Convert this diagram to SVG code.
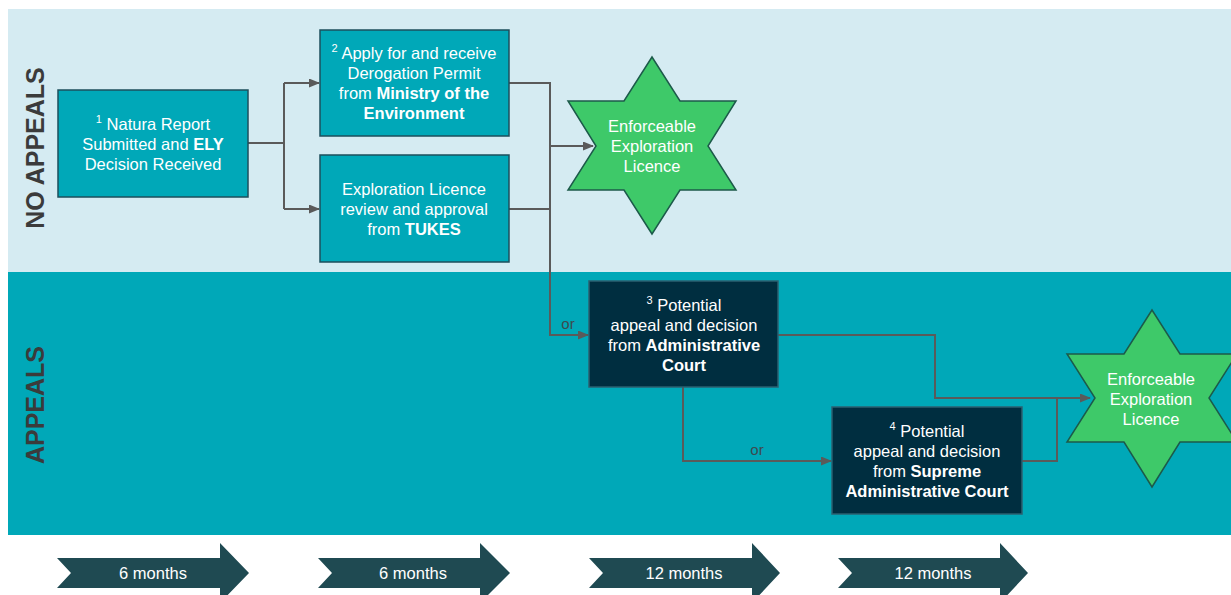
<svg xmlns="http://www.w3.org/2000/svg" width="1231" height="595" viewBox="0 0 1231 595">
<defs>
<style>
text{font-family:"Liberation Sans",Arial,sans-serif;font-size:16.5px;fill:#ffffff;text-anchor:middle;dominant-baseline:central}
.b{font-weight:bold}
.sup{font-size:11px}
.lane{font-size:25px;font-weight:bold;fill:#3b3b3b}
.or{fill:#3d4a4f;font-size:15px}
.n{fill:#00a8b8;stroke:#1d4f5c;stroke-width:1.5}
.d{fill:#002e40;stroke:#2b6070;stroke-width:1.5}
.star{fill:#3ec969;stroke:#1c5a4a;stroke-width:1.5}
.c{fill:none;stroke:#5a5a5a;stroke-width:2}
.t{fill:#1f4a52}
</style>
<marker id="ah" markerWidth="11" markerHeight="9" refX="10" refY="4.5" orient="auto" markerUnits="userSpaceOnUse">
<path d="M0,0 L11,4.5 L0,9 Z" fill="#5a5a5a"/>
</marker>
</defs>
<rect x="0" y="0" width="1231" height="595" fill="#ffffff"/>
<g id="lanes">
<rect x="8" y="9" width="1223" height="263" fill="#d5ebf2"/>
<rect x="8" y="272" width="1223" height="263" fill="#00a8b8"/>
<text class="lane" transform="translate(35,148) rotate(-90)">NO APPEALS</text>
<text class="lane" transform="translate(35,405) rotate(-90)">APPEALS</text>
</g>
<g id="connectors">
<path class="c" d="M248,143 H284"/>
<path class="c" d="M284,83 V209"/>
<path class="c" d="M284,83 H319" marker-end="url(#ah)"/>
<path class="c" d="M284,209 H319" marker-end="url(#ah)"/>
<path class="c" d="M509,83 H550 V335 H588" marker-end="url(#ah)"/>
<path class="c" d="M509,209 H550"/>
<path class="c" d="M550,146 H593" marker-end="url(#ah)"/>
<path class="c" d="M778,335 H935 V398 H1090" marker-end="url(#ah)"/>
<path class="c" d="M683,387 V461 H831" marker-end="url(#ah)"/>
<path class="c" d="M1022,461 H1057 V398"/>
<text class="or" x="568" y="323">or</text>
<text class="or" x="757" y="449">or</text>
</g>
<g id="node1">
<rect class="n" x="58" y="90" width="190" height="107"/>
<text x="153" y="124"><tspan class="sup" dy="-5">1</tspan><tspan dy="5"> Natura Report</tspan></text>
<text x="153" y="144">Submitted and <tspan class="b">ELY</tspan></text>
<text x="153" y="164">Decision Received</text>
</g>
<g id="node2">
<rect class="n" x="320" y="30" width="189" height="106"/>
<text x="414" y="53"><tspan class="sup" dy="-5">2</tspan><tspan dy="5"> Apply for and receive</tspan></text>
<text x="414" y="73">Derogation Permit</text>
<text x="414" y="93">from <tspan class="b">Ministry of the</tspan></text>
<text x="414" y="113" class="b">Environment</text>
</g>
<g id="node3">
<rect class="n" x="320" y="155" width="189" height="107"/>
<text x="414" y="189">Exploration Licence</text>
<text x="414" y="209">review and approval</text>
<text x="414" y="229">from <tspan class="b">TUKES</tspan></text>
</g>
<g id="star1">
<polygon class="star" points="652,57 680,101 736,101 708,146 736,190 680,190 652,234 624,190 568,190 596,146 568,101 624,101"/>
<text x="652" y="126">Enforceable</text>
<text x="652" y="146">Exploration</text>
<text x="652" y="166">Licence</text>
</g>
<g id="node4">
<rect class="d" x="589" y="281" width="189" height="106"/>
<text x="684" y="305"><tspan class="sup" dy="-5">3</tspan><tspan dy="5"> Potential</tspan></text>
<text x="684" y="325">appeal and decision</text>
<text x="684" y="345">from <tspan class="b">Administrative</tspan></text>
<text x="684" y="365" class="b">Court</text>
</g>
<g id="node5">
<rect class="d" x="832" y="407" width="190" height="107"/>
<text x="927" y="431"><tspan class="sup" dy="-5">4</tspan><tspan dy="5"> Potential</tspan></text>
<text x="927" y="451">appeal and decision</text>
<text x="927" y="471">from <tspan class="b">Supreme</tspan></text>
<text x="927" y="491" class="b">Administrative Court</text>
</g>
<g id="star2">
<polygon class="star" points="1152,310 1180,354 1237,354 1209,398 1237,442 1180,442 1152,487 1124,442 1067,442 1095,398 1067,354 1124,354"/>
<text x="1151" y="379">Enforceable</text>
<text x="1151" y="399">Exploration</text>
<text x="1151" y="419">Licence</text>
</g>
<g id="timeline">
<polygon class="t" points="57,558 220,558 220,543 249,573 220,603 220,588 57,588 71,573"/>
<text x="153" y="573">6 months</text>
<polygon class="t" points="318,558 480,558 480,543 510,573 480,603 480,588 318,588 332,573"/>
<text x="413" y="573">6 months</text>
<polygon class="t" points="589,558 752,558 752,543 780,573 752,603 752,588 589,588 603,573"/>
<text x="684" y="573">12 months</text>
<polygon class="t" points="838,558 1000,558 1000,543 1028,573 1000,603 1000,588 838,588 852,573"/>
<text x="933" y="573">12 months</text>
</g>
</svg>
